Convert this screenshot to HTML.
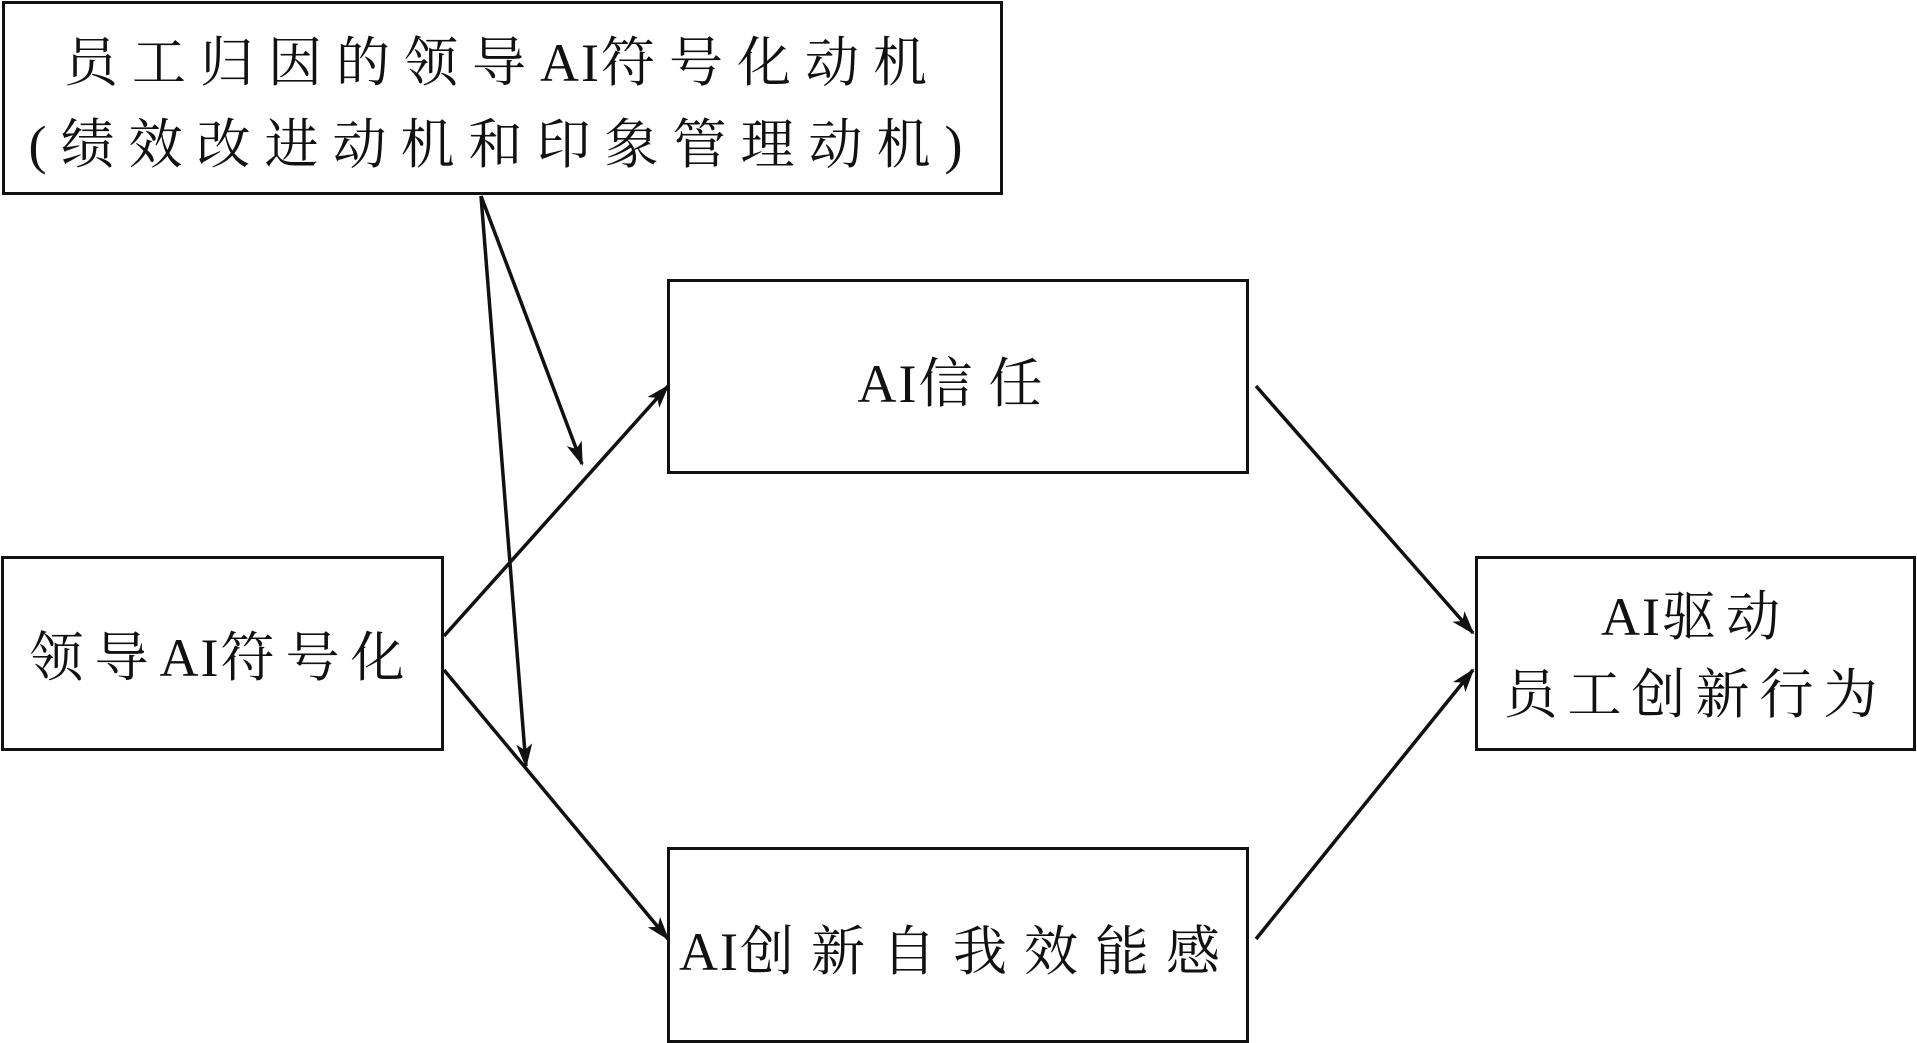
<!DOCTYPE html>
<html><head><meta charset="utf-8"><style>
body{margin:0;width:1917px;height:1043px;background:#fff;overflow:hidden;position:relative;font-family:"Liberation Serif","Noto Serif CJK SC",serif;color:#111}
.b{position:absolute;border:3px solid #111;box-sizing:border-box;display:flex;flex-direction:column;align-items:center;justify-content:center;text-align:center;font-size:54px;line-height:80px;padding-top:14px;white-space:nowrap}
.b span{letter-spacing:2px}
svg{position:absolute;left:0;top:0}
</style></head><body>
<div class="b" style="left:2px;top:1px;width:1001px;height:194px;letter-spacing:14px;line-height:82px;padding-top:12px"><div>员工归因的领导<span>AI</span>符号化动机</div><div>(绩效改进动机和印象管理动机)</div></div>
<div class="b" style="left:667px;top:279px;width:582px;height:195px;letter-spacing:16px"><div><span>AI</span>信任</div></div>
<div class="b" style="left:1px;top:556px;width:443px;height:195px;letter-spacing:11px;padding-top:8px"><div>领导<span>AI</span>符号化</div></div>
<div class="b" style="left:667px;top:847px;width:582px;height:196px;letter-spacing:17px"><div><span>AI</span>创新自我效能感</div></div>
<div class="b" style="left:1475px;top:556px;width:441px;height:195px;line-height:78px;letter-spacing:10px;padding-top:4px"><div><span>AI</span>驱动</div><div>员工创新行为</div></div>
<svg width="1917" height="1043">
<defs><marker id="m" markerWidth="24" markerHeight="16" refX="22" refY="8" orient="auto" markerUnits="userSpaceOnUse"><path d="M0,0L24,8L0,16L6,8z" fill="#111"/></marker></defs>
<g stroke="#111" stroke-width="3.5" fill="none">
<line x1="444" y1="636" x2="668" y2="386" marker-end="url(#m)"/>
<line x1="444" y1="670" x2="668" y2="939" marker-end="url(#m)"/>
<line x1="1256" y1="386" x2="1473" y2="633" marker-end="url(#m)"/>
<line x1="1256" y1="939" x2="1473" y2="670" marker-end="url(#m)"/>
<line x1="481" y1="196" x2="582" y2="464" marker-end="url(#m)"/>
<line x1="481" y1="196" x2="526" y2="766" marker-end="url(#m)"/>
</g></svg>
</body></html>
